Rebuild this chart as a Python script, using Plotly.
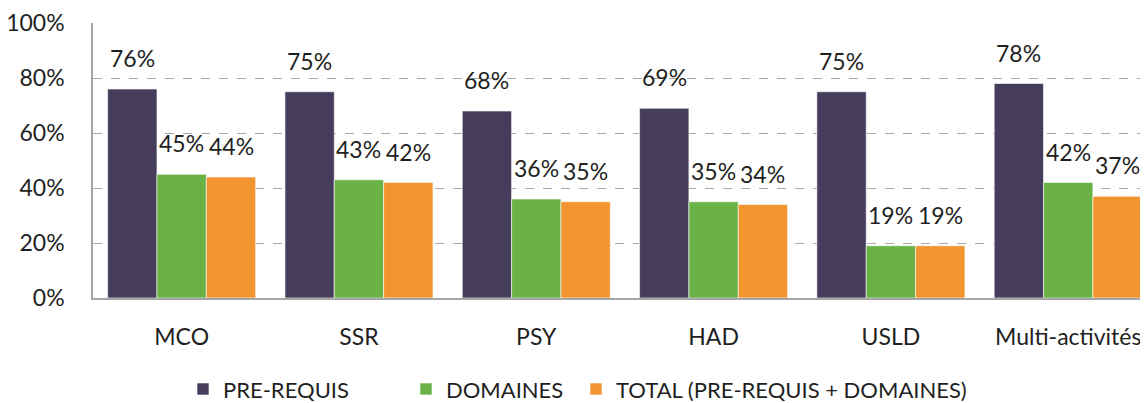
import plotly.graph_objects as go

categories = ["MCO", "SSR", "PSY", "HAD", "USLD", "Multi-activités"]
pre_requis = [0.76, 0.75, 0.68, 0.69, 0.75, 0.78]
domaines = [0.45, 0.43, 0.36, 0.35, 0.19, 0.42]
total = [0.44, 0.42, 0.35, 0.34, 0.19, 0.37]
series_names = ["PRE-REQUIS", "DOMAINES", "TOTAL (PRE-REQUIS + DOMAINES)"]
colors = ["#463D5C", "#6AB245", "#F29430"]
y_ticks = [0, 0.2, 0.4, 0.6, 0.8, 1.0]
y_tick_labels = ["0%", "20%", "40%", "60%", "80%", "100%"]

FONT = "Lato"
# page body has an 8px default margin, so the figure is 8px smaller
W, H = 1140, 395
ML, MR, MT, MB = 85, 0, 15, 105
x_range = [-0.5, 5.45]
bargap = 0.165
legend_x_px = [175, 398, 568]

fig = go.Figure()
all_series = [pre_requis, domaines, total]
legend_ids = ["legend", "legend2", "legend3"]
for name, vals, col, lg in zip(series_names, all_series, colors, legend_ids):
    fig.add_trace(go.Bar(
        x=categories, y=vals, name=name, legend=lg,
        marker=dict(color=col, line=dict(color="white", width=0.6)),
    ))

# data labels above bars
plot_w = W - ML - MR
px_per_cat = plot_w / (x_range[1] - x_range[0])
bar_px = px_per_cat * (1 - bargap) / 3
for si, vals in enumerate(all_series):
    for ci, v in enumerate(vals):
        fig.add_annotation(
            x=categories[ci], y=v, xref="x", yref="y",
            text=f"{round(v*100)}%", showarrow=False,
            xshift=(si - 1) * bar_px, yshift=15, yanchor="bottom",
            font=dict(family=FONT, size=23, color="#1F1F1F"),
        )

def legend_cfg(xpx):
    return dict(
        orientation="h", xref="container", yref="container",
        x=xpx / W, y=0.035, xanchor="left", yanchor="middle",
        font=dict(family=FONT, size=22, color="#1F1F1F"),
        itemwidth=30, bgcolor="rgba(0,0,0,0)",
    )

fig.update_layout(
    width=W, height=H,
    margin=dict(l=ML, r=MR, t=MT, b=MB, autoexpand=False),
    barmode="group", bargap=bargap, bargroupgap=0,
    plot_bgcolor="white", paper_bgcolor="white",
    font=dict(family=FONT, size=23, color="#1F1F1F"),
    showlegend=True,
    legend=legend_cfg(legend_x_px[0]),
    legend2=legend_cfg(legend_x_px[1]),
    legend3=legend_cfg(legend_x_px[2]),
    xaxis=dict(
        range=x_range, showgrid=False, showline=True, automargin=False,
        linecolor="#A6A6A6", linewidth=1.5, ticks="",
        tickfont=dict(family=FONT, size=23, color="#1F1F1F"),
        ticklabelstandoff=18, ticklabeloverflow="allow",
    ),
    yaxis=dict(
        range=[0, 1.0], tickvals=y_ticks, ticktext=y_tick_labels,
        showgrid=True, gridcolor="#A6A6A6", griddash="dash", gridwidth=1,
        showline=True, linecolor="#A6A6A6", linewidth=1.5, automargin=False,
        zeroline=False, ticks="",
        tickfont=dict(family=FONT, size=23, color="#1F1F1F"),
        ticklabelstandoff=22,
    ),
)

fig.write_html("out.html")
